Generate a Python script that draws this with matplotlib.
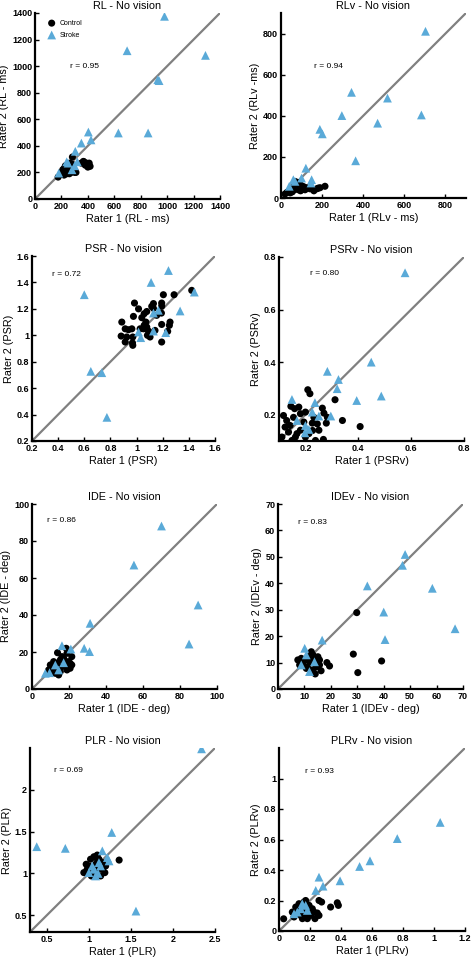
import matplotlib
matplotlib.use("Agg")
import matplotlib.pyplot as plt
from matplotlib.ticker import FuncFormatter

plt.rcParams['font.family'] = ['Liberation Sans', 'DejaVu Sans']

BLUE = '#5aaad8'

# ---------------- data ----------------
# RL
rl_ctrl_x = [283, 370, 390, 400, 410, 175, 200, 220, 250, 230, 260, 240, 270, 290, 300, 210, 245, 265, 285, 220,
             195, 255, 235, 300, 270, 350, 380, 215, 205, 310, 260, 280, 366, 417]
rl_ctrl_y = [316, 280, 270, 240, 270, 165, 200, 230, 210, 250, 260, 190, 200, 230, 200, 220, 240, 270, 260, 180,
             185, 225, 215, 215, 240, 270, 255, 205, 195, 200, 190, 205, 283, 246]
rl_str_x = [980, 697, 1290, 929, 939, 631, 856, 404, 351, 424, 305, 250, 300, 180, 240, 280, 320]
rl_str_y = [1375, 1116, 1081, 898, 891, 497, 497, 504, 421, 445, 359, 270, 250, 195, 280, 220, 280]

# RLv
rlv_ctrl_x = [214, 181, 157, 117, 20, 30, 40, 50, 60, 70, 80, 90, 100, 110, 55, 65, 75, 85, 95, 105,
              125, 140, 160, 175, 190, 45, 35, 85, 70, 100]
rlv_ctrl_y = [57, 48, 40, 40, 20, 28, 35, 45, 55, 60, 65, 70, 60, 55, 30, 40, 50, 40, 35, 45,
              50, 45, 35, 45, 50, 25, 30, 75, 80, 40]
rlv_str_x = [703, 343, 518, 296, 470, 683, 189, 201, 363, 121, 100, 149, 146, 40, 60, 68]
rlv_str_y = [811, 514, 486, 401, 364, 404, 334, 312, 181, 145, 97, 89, 73, 57, 89, 81]

# PSR
psr_ctrl_x = [1.422, 1.287, 1.205, 1.192, 1.192, 1.256, 1.251, 1.238, 1.192, 1.192, 1.19, 1.116, 1.129, 1.078,
              1.058, 1.04, 1.015, 0.984, 0.976, 0.964, 0.887, 0.913, 0.938, 0.882, 0.925, 0.913, 0.969, 0.971,
              0.971, 1.053, 1.058, 1.078, 1.091, 1.083, 1.103, 1.027, 1.071, 1.141, 1.154, 1.129]
psr_ctrl_y = [1.34, 1.307, 1.307, 1.244, 1.22, 1.10, 1.075, 1.03, 0.949, 1.082, 1.168, 1.219, 1.24, 1.18,
              1.163, 1.133, 1.2, 1.244, 1.143, 1.049, 1.10, 1.049, 1.042, 0.994, 0.987, 0.949, 0.942, 0.924,
              0.987, 1.049, 1.075, 1.062, 1.032, 1.0, 0.987, 1.049, 1.10, 1.037, 1.151, 1.204]
psr_str_x = [0.60, 1.244, 1.111, 1.442, 1.333, 0.650, 0.734, 0.773, 1.015, 1.032, 1.129, 1.129, 1.167, 1.223]
psr_str_y = [1.307, 1.49, 1.40, 1.327, 1.184, 0.727, 0.717, 0.379, 1.025, 0.982, 1.032, 1.168, 1.189, 1.020]

# PSRv
psrv_ctrl_x = [0.209, 0.217, 0.312, 0.340, 0.407, 0.279, 0.264, 0.270, 0.283, 0.232, 0.226, 0.227, 0.238, 0.268,
               0.200, 0.162, 0.149, 0.136, 0.123, 0.117, 0.145, 0.159, 0.155, 0.142, 0.181, 0.194, 0.181, 0.175,
               0.200, 0.245, 0.129, 0.111, 0.168, 0.213, 0.251]
psrv_ctrl_y = [0.295, 0.280, 0.257, 0.178, 0.155, 0.168, 0.225, 0.206, 0.190, 0.190, 0.168, 0.140, 0.102, 0.106,
               0.115, 0.115, 0.102, 0.134, 0.153, 0.197, 0.232, 0.223, 0.190, 0.159, 0.204, 0.172, 0.141, 0.229,
               0.210, 0.165, 0.178, 0.115, 0.128, 0.128, 0.141]
psrv_str_x = [0.577, 0.449, 0.487, 0.394, 0.283, 0.325, 0.320, 0.296, 0.251, 0.236, 0.226, 0.149, 0.168, 0.200,
              0.213, 0.198]
psrv_str_y = [0.740, 0.400, 0.271, 0.254, 0.365, 0.334, 0.299, 0.195, 0.195, 0.246, 0.210, 0.258, 0.178, 0.159,
              0.144, 0.131]

# IDE
ide_ctrl_x = [13.8, 18.5, 18.9, 21.5, 21.5, 20.6, 18.0, 15.3, 13.5, 11.7, 9.9, 14.4, 12.6, 10.8, 16.2, 19.7,
              16.2, 18.9, 11.7, 13.5, 15.3, 17.1, 19.7, 9.0, 20.6]
ide_ctrl_y = [19.6, 22.0, 19.3, 17.5, 13.0, 11.2, 14.8, 15.7, 13.9, 12.1, 13.0, 7.6, 8.5, 9.4, 12.1, 14.8,
              17.5, 10.3, 14.8, 11.2, 9.4, 16.6, 12.1, 10.3, 13.9]
ide_str_x = [70.0, 55.1, 89.8, 84.9, 31.4, 28.2, 31.1, 16.2, 21.0, 17.1, 12.6, 9.5, 14.4, 7.2]
ide_str_y = [88.1, 67.0, 45.4, 24.3, 35.5, 22.0, 20.2, 23.4, 21.6, 14.2, 13.0, 8.8, 10.3, 8.5]

# IDEv
idev_ctrl_x = [29.8, 28.5, 30.2, 39.2, 18.5, 19.5, 16.3, 14.1, 12.6, 13.2, 15.1, 15.7, 14.5, 13.2, 11.3, 9.4,
               7.5, 8.2, 10.1, 11.3, 11.9, 13.8, 10.7, 8.8, 12.6, 14.5, 15.7]
idev_ctrl_y = [28.9, 13.2, 6.2, 10.6, 10.0, 8.7, 6.9, 5.7, 14.1, 12.9, 12.2, 11.0, 8.4, 7.2, 8.4, 9.7,
               11.0, 9.1, 11.0, 12.2, 10.3, 9.7, 7.8, 11.6, 11.6, 11.0, 9.1]
idev_str_x = [48.1, 47.1, 33.8, 58.4, 40.0, 40.5, 67.0, 16.7, 10.1, 10.7, 11.9, 8.8, 13.8]
idev_str_y = [50.9, 46.8, 39.0, 38.1, 29.1, 18.7, 22.8, 18.5, 15.4, 12.9, 6.6, 9.1, 10.3]

# PLR
plr_ctrl_x = [1.36, 1.10, 1.06, 1.02, 0.968, 0.94, 1.03, 1.19, 1.16, 1.16, 1.12, 1.08, 1.04, 1.00, 0.98, 1.10,
              1.14, 1.06, 1.20, 1.12, 1.08]
plr_ctrl_y = [1.16, 1.22, 1.20, 1.17, 1.11, 1.01, 0.97, 1.01, 1.05, 1.13, 1.17, 1.11, 1.07, 1.09, 1.05, 1.03,
              0.97, 1.01, 1.09, 1.07, 1.19]
plr_str_x = [2.34, 0.38, 0.72, 1.272, 1.56, 1.16, 1.24, 1.22, 1.00, 1.08, 1.11, 1.06, 1.12, 1.14, 1.04]
plr_str_y = [2.49, 1.32, 1.30, 1.49, 0.55, 1.27, 1.15, 1.19, 1.01, 0.97, 1.00, 1.05, 1.13, 1.09, 1.09]

# PLRv
plrv_ctrl_x = [0.376, 0.383, 0.333, 0.258, 0.275, 0.247, 0.232, 0.183, 0.151, 0.03, 0.108, 0.129, 0.161, 0.172,
               0.194, 0.215, 0.204, 0.172, 0.140, 0.086, 0.118, 0.226, 0.258, 0.151, 0.097]
plrv_ctrl_y = [0.185, 0.168, 0.157, 0.200, 0.190, 0.118, 0.081, 0.081, 0.081, 0.08, 0.157, 0.179, 0.190, 0.200,
               0.168, 0.146, 0.102, 0.092, 0.102, 0.124, 0.146, 0.124, 0.102, 0.135, 0.092]
plrv_str_x = [1.04, 0.763, 0.587, 0.52, 0.394, 0.258, 0.284, 0.237, 0.172, 0.14, 0.118, 0.183, 0.097, 0.15]
plrv_str_y = [0.712, 0.606, 0.46, 0.423, 0.329, 0.353, 0.294, 0.266, 0.168, 0.146, 0.124, 0.135, 0.113, 0.179]

titles = ['RL - No vision', 'RLv - No vision', 'PSR - No vision', 'PSRv - No vision',
          'IDE - No vision', 'IDEv - No vision', 'PLR - No vision', 'PLRv - No vision']
xlabels = ['Rater 1 (RL - ms)', 'Rater 1 (RLv - ms)', 'Rater 1 (PSR)', 'Rater 1 (PSRv)',
           'Rater 1 (IDE - deg)', 'Rater 1 (IDEv - deg)', 'Rater 1 (PLR)', 'Rater 1 (PLRv)']
ylabels = ['Rater 2 (RL - ms)', 'Rater 2 (RLv -ms)', 'Rater 2 (PSR)', 'Rater 2 (PSRv)',
           'Rater 2 (IDE - deg)', 'Rater 2 (IDEv - deg)', 'Rater 2 (PLR)', 'Rater 2 (PLRv)']
r_texts = ['r = 0.95', 'r = 0.94', 'r = 0.72', 'r = 0.80', 'r = 0.86', 'r = 0.83', 'r = 0.69', 'r = 0.93']

# ---------------- layout ----------------
W, H = 473, 959
boxes = [(35, 220, 13, 199), (281, 466, 13, 198),
         (32, 215, 256, 441), (279, 464, 257, 441),
         (32, 217, 504, 689), (278, 463, 504, 689),
         (30, 215, 748, 932), (279, 465, 748, 931)]
lims = [(0, 1400), (0, 900), (0.2, 1.6), (0.1, 0.8), (0, 100), (0, 70), (0.3, 2.5), (0, 1.2)]
xticks = [[0, 200, 400, 600, 800, 1000, 1200, 1400], [0, 200, 400, 600, 800],
          [0.2, 0.4, 0.6, 0.8, 1, 1.2, 1.4, 1.6], [0.2, 0.4, 0.6, 0.8],
          [0, 20, 40, 60, 80, 100], [0, 10, 20, 30, 40, 50, 60, 70],
          [0.5, 1, 1.5, 2, 2.5], [0, 0.2, 0.4, 0.6, 0.8, 1, 1.2]]
yticks = [[0, 200, 400, 600, 800, 1000, 1200, 1400], [0, 200, 400, 600, 800],
          [0.2, 0.4, 0.6, 0.8, 1, 1.2, 1.4, 1.6], [0.2, 0.4, 0.6, 0.8],
          [0, 20, 40, 60, 80, 100], [0, 10, 20, 30, 40, 50, 60, 70],
          [0.5, 1, 1.5, 2], [0, 0.2, 0.4, 0.6, 0.8, 1]]
rpos = [(0.19, 0.715), (0.18, 0.71), (0.11, 0.90), (0.17, 0.91),
        (0.08, 0.91), (0.11, 0.90), (0.13, 0.88), (0.14, 0.87)]

data = [(rl_ctrl_x, rl_ctrl_y, rl_str_x, rl_str_y),
        (rlv_ctrl_x, rlv_ctrl_y, rlv_str_x, rlv_str_y),
        (psr_ctrl_x, psr_ctrl_y, psr_str_x, psr_str_y),
        (psrv_ctrl_x, psrv_ctrl_y, psrv_str_x, psrv_str_y),
        (ide_ctrl_x, ide_ctrl_y, ide_str_x, ide_str_y),
        (idev_ctrl_x, idev_ctrl_y, idev_str_x, idev_str_y),
        (plr_ctrl_x, plr_ctrl_y, plr_str_x, plr_str_y),
        (plrv_ctrl_x, plrv_ctrl_y, plrv_str_x, plrv_str_y)]

fig = plt.figure(figsize=(W / 100, H / 100), dpi=100)
fmt = FuncFormatter(lambda v, p: ('%g' % round(v, 6)))

for i in range(8):
    x0, x1, y0, y1 = boxes[i]
    ax = fig.add_axes([x0 / W, 1 - y1 / H, (x1 - x0) / W, (y1 - y0) / H])
    lo, hi = lims[i]
    ax.plot([lo, hi], [lo, hi], color='#808080', lw=1.6, zorder=1)
    cx, cy, sx, sy = data[i]
    ax.scatter(cx, cy, s=26, marker='o', color='black', edgecolors='none', zorder=3, label='Control')
    ax.scatter(sx, sy, s=40, marker='^', color=BLUE, edgecolors='none', zorder=4, label='Stroke')
    ax.set_xlim(lo, hi)
    ax.set_ylim(lo, hi)
    ax.set_xticks(xticks[i])
    ax.set_yticks(yticks[i])
    ax.xaxis.set_major_formatter(fmt)
    ax.yaxis.set_major_formatter(fmt)
    for s in ['top', 'right']:
        ax.spines[s].set_visible(False)
    for s in ['left', 'bottom']:
        ax.spines[s].set_linewidth(1.6)
    ax.tick_params(direction='in', length=3, width=1, labelsize=6.5, pad=2)
    for lab in ax.get_xticklabels() + ax.get_yticklabels():
        lab.set_fontweight('bold')
    ax.set_title(titles[i], fontsize=7.8, pad=3)
    ax.set_xlabel(xlabels[i], fontsize=7.8, labelpad=2)
    ax.set_ylabel(ylabels[i], fontsize=7.8, labelpad=2)
    ax.text(rpos[i][0], rpos[i][1], r_texts[i], transform=ax.transAxes, fontsize=6,
            va='center', ha='left')
    if i == 0:
        ax.legend(loc='upper left', bbox_to_anchor=(0.03, 0.985), frameon=False, fontsize=5,
                  handletextpad=0.2, borderaxespad=0.2, labelspacing=0.7, scatterpoints=1)

fig.savefig('out.png', dpi=100)
